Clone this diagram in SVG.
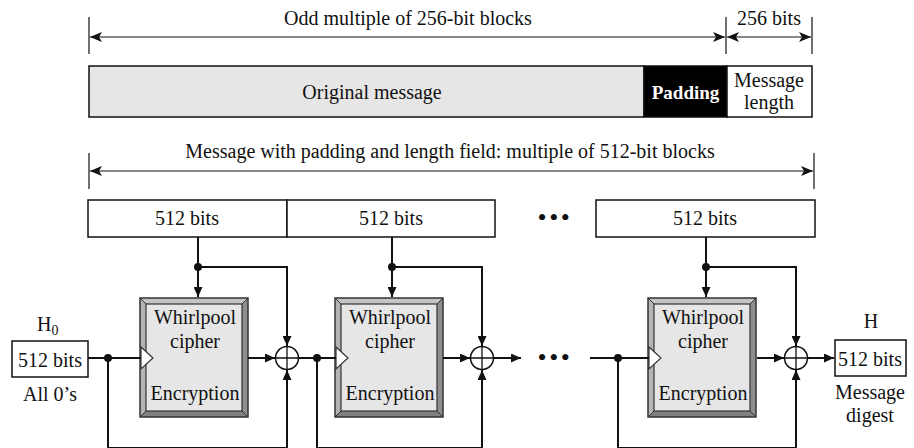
<svg xmlns="http://www.w3.org/2000/svg" width="914" height="448" viewBox="0 0 914 448">
<style>
text{font-family:"Liberation Serif","Times New Roman",serif;font-size:20px;fill:#111;}
.c{text-anchor:middle;}
.dim{stroke:#111;stroke-width:1.2;fill:none;}
.tick{stroke:#111;stroke-width:1.2;}
.box{fill:#fff;stroke:#111;stroke-width:1.5;}
.ln{stroke:#111;stroke-width:2;fill:none;}
.dot{fill:#111;}
.xor{fill:#fff;stroke:#111;stroke-width:1.5;}
.dots{font-size:26px;letter-spacing:2.5px;}
</style>
<defs>
<marker id="ah" markerUnits="userSpaceOnUse" markerWidth="11" markerHeight="9" refX="10" refY="4.5" orient="auto">
<path d="M0,0 L10,4.5 L0,9 z" fill="#111"/>
</marker>
<marker id="dh" markerUnits="userSpaceOnUse" markerWidth="13" markerHeight="10" refX="12" refY="5" orient="auto-start-reverse">
<path d="M0,0 L12,5 L0,10 L3,5 z" fill="#111"/>
</marker>
<g id="cipher">
<rect x="0" y="0" width="108" height="119" fill="#a8a8a8"/>
<polygon points="0,0 108,0 102,6 6,6" fill="#c4c4c4"/>
<polygon points="0,0 6,6 6,113 0,119" fill="#b4b4b4"/>
<polygon points="108,0 108,119 102,113 102,6" fill="#8e8e8e"/>
<polygon points="0,119 108,119 102,113 6,113" fill="#808080"/>
<line x1="0" y1="0" x2="6" y2="6" stroke="#333" stroke-width="1"/>
<line x1="108" y1="0" x2="102" y2="6" stroke="#333" stroke-width="1"/>
<line x1="0" y1="119" x2="6" y2="113" stroke="#333" stroke-width="1"/>
<line x1="108" y1="119" x2="102" y2="113" stroke="#333" stroke-width="1"/>
<rect x="0" y="0" width="108" height="119" fill="none" stroke="#333" stroke-width="1.5"/>
<rect x="6" y="6" width="96" height="107" fill="#e6e6e6" stroke="#333" stroke-width="1.2"/>
<polygon points="1,49 13,60 1,71" fill="#fff" stroke="#333" stroke-width="1.2"/>
</g>
</defs>

<g id="dimensions">
<line class="tick" x1="89" y1="17" x2="89" y2="54"/>
<line class="tick" x1="726" y1="17" x2="726" y2="54"/>
<line class="tick" x1="812" y1="17" x2="812" y2="54"/>
<line class="dim" x1="90" y1="37" x2="725" y2="37" marker-start="url(#dh)" marker-end="url(#dh)"/>
<line class="dim" x1="727" y1="37" x2="811" y2="37" marker-start="url(#dh)" marker-end="url(#dh)"/>
<text class="c" x="408" y="25">Odd multiple of 256-bit blocks</text>
<text class="c" x="769" y="25">256 bits</text>
<line class="tick" x1="89" y1="153" x2="89" y2="189"/>
<line class="tick" x1="814" y1="153" x2="814" y2="189"/>
<line class="dim" x1="90" y1="171" x2="813" y2="171" marker-start="url(#dh)" marker-end="url(#dh)"/>
<text class="c" x="450" y="158">Message with padding and length field: multiple of 512-bit blocks</text>
</g>

<g id="message-bar">
<rect x="89" y="66" width="555" height="51" fill="#e6e6e6" stroke="#111" stroke-width="1.5"/>
<rect x="644" y="66" width="83" height="51" fill="#000" stroke="#111" stroke-width="1.5"/>
<rect x="727" y="66" width="85" height="51" fill="#fff" stroke="#111" stroke-width="1.5"/>
<text class="c" x="372" y="99">Original message</text>
<text class="c" x="685.5" y="99" style="font-weight:bold;fill:#fff;font-size:19px">Padding</text>
<text class="c" x="769" y="87">Message</text>
<text class="c" x="769" y="109">length</text>
</g>

<g id="block1"><rect class="box" x="88" y="200" width="199" height="37"/><text class="c" x="187" y="225">512 bits</text></g>
<g id="block2"><rect class="box" x="287" y="200" width="208" height="37"/><text class="c" x="391" y="225">512 bits</text></g>
<g id="block3"><rect class="box" x="596" y="200" width="219" height="37"/><text class="c" x="705" y="225">512 bits</text></g>
<g id="dots-top"><text class="c dots" x="555" y="226">•••</text></g>

<g id="h0">
<text x="37" y="331">H<tspan font-size="14" dy="4">0</tspan></text>
<rect class="box" x="12" y="341" width="76" height="36"/>
<text class="c" x="50" y="367">512 bits</text>
<text class="c" x="50" y="401">All 0’s</text>
</g>

<g id="cipher1"><use href="#cipher" x="140" y="298"/>
<text class="c" x="195" y="324">Whirlpool</text><text class="c" x="195" y="348">cipher</text><text class="c" x="195" y="400">Encryption</text></g>
<g id="cipher2"><use href="#cipher" x="335" y="298"/>
<text class="c" x="390" y="324">Whirlpool</text><text class="c" x="390" y="348">cipher</text><text class="c" x="390" y="400">Encryption</text></g>
<g id="cipher3"><use href="#cipher" x="648" y="298"/>
<text class="c" x="703" y="324">Whirlpool</text><text class="c" x="703" y="348">cipher</text><text class="c" x="703" y="400">Encryption</text></g>

<g id="connectors">
<path class="ln" d="M88,358 H141"/>
<path class="ln" d="M108,358 V448 H287 V370" marker-end="url(#ah)"/>
<path class="ln" d="M198,237 V297" marker-end="url(#ah)"/>
<path class="ln" d="M198,267 H287 V346" marker-end="url(#ah)"/>
<path class="ln" d="M248,358 H275" marker-end="url(#ah)"/>
<path class="ln" d="M298,358 H336"/>
<path class="ln" d="M317,358 V448 H482 V370" marker-end="url(#ah)"/>
<path class="ln" d="M392,237 V297" marker-end="url(#ah)"/>
<path class="ln" d="M392,267 H482 V346" marker-end="url(#ah)"/>
<path class="ln" d="M443,358 H470" marker-end="url(#ah)"/>
<path class="ln" d="M493,358 H521" marker-end="url(#ah)"/>
<path class="ln" d="M590,358 H649"/>
<path class="ln" d="M618,358 V448 H796 V370" marker-end="url(#ah)"/>
<path class="ln" d="M706,237 V297" marker-end="url(#ah)"/>
<path class="ln" d="M706,267 H796 V346" marker-end="url(#ah)"/>
<path class="ln" d="M757,358 H784" marker-end="url(#ah)"/>
<path class="ln" d="M807,358 H834" marker-end="url(#ah)"/>
<circle class="dot" cx="108" cy="358" r="4"/>
<circle class="dot" cx="198" cy="267" r="4"/>
<circle class="dot" cx="317" cy="358" r="4"/>
<circle class="dot" cx="392" cy="267" r="4"/>
<circle class="dot" cx="618" cy="358" r="4"/>
<circle class="dot" cx="706" cy="267" r="4"/>
</g>

<g id="xor1"><circle class="xor" cx="287" cy="358" r="11.5"/><path class="ln" style="stroke-width:1.3" d="M276,358 H298 M287,347 V369"/></g>
<g id="xor2"><circle class="xor" cx="482" cy="358" r="11.5"/><path class="ln" style="stroke-width:1.3" d="M471,358 H493 M482,347 V369"/></g>
<g id="xor3"><circle class="xor" cx="796" cy="358" r="11.5"/><path class="ln" style="stroke-width:1.3" d="M785,358 H807 M796,347 V369"/></g>
<g id="dots-mid"><text class="c dots" x="555" y="366">•••</text></g>

<g id="h-out">
<text class="c" x="871" y="328">H</text>
<rect class="box" x="835" y="340" width="71" height="36"/>
<text class="c" x="870" y="366">512 bits</text>
<text class="c" x="870" y="399">Message</text>
<text class="c" x="870" y="422">digest</text>
</g>
</svg>
